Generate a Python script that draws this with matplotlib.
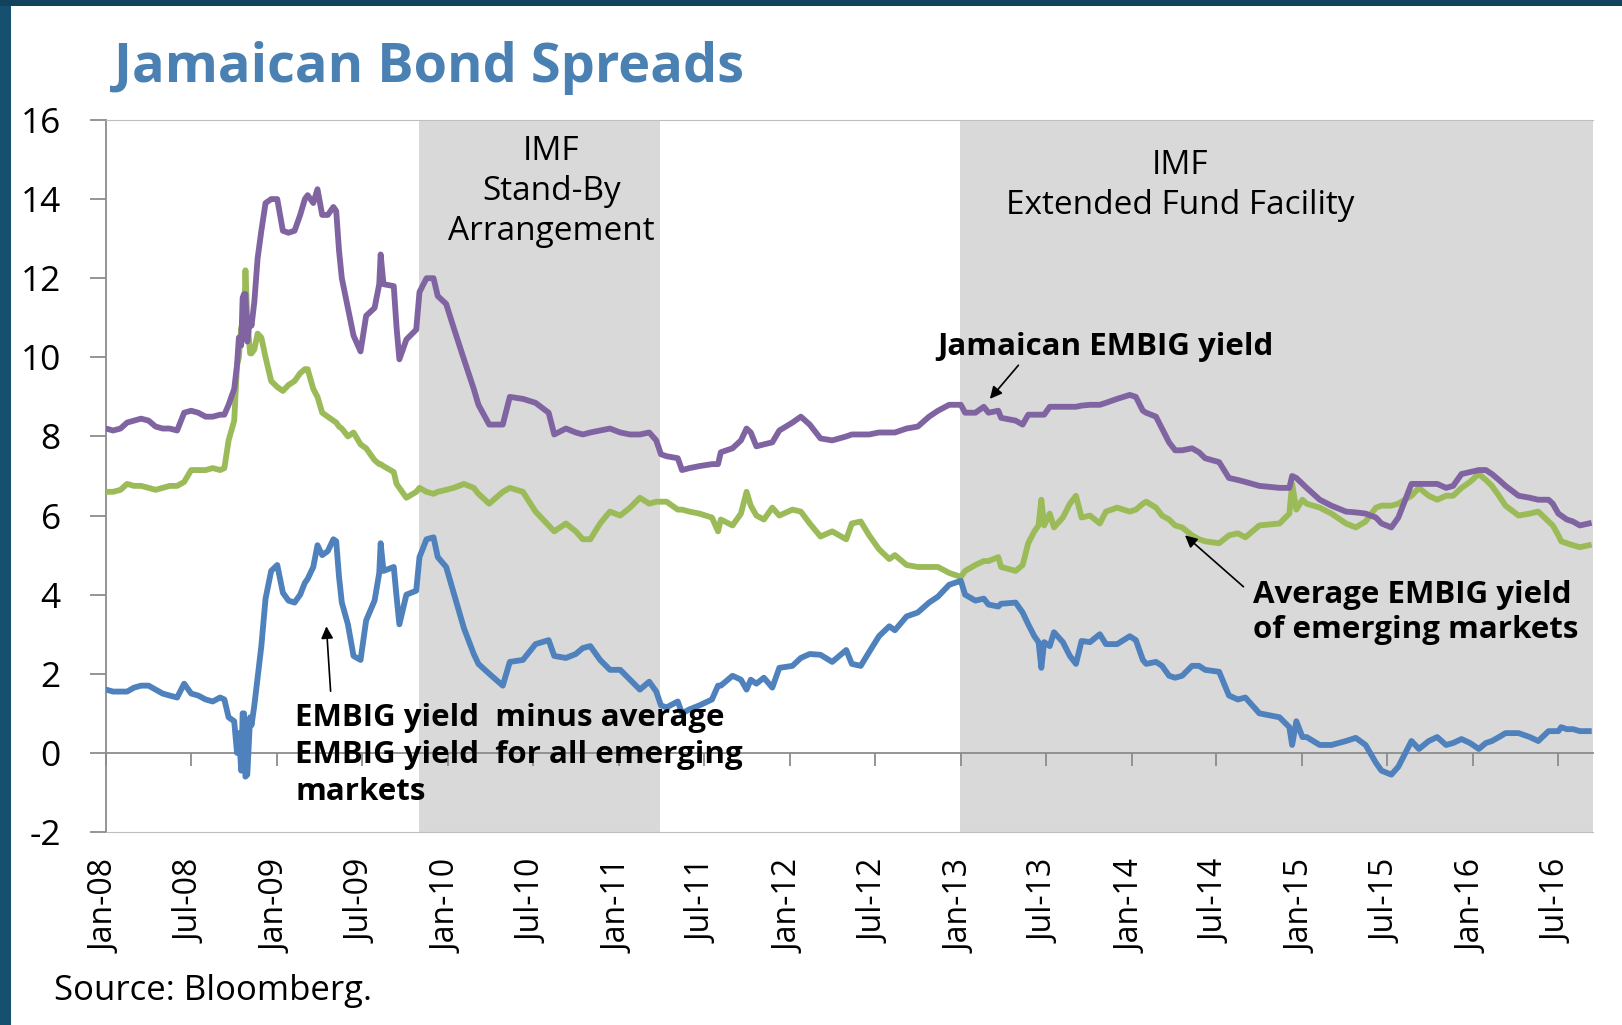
import matplotlib
matplotlib.use("Agg")
import matplotlib.pyplot as plt
import matplotlib.dates as mdates
from matplotlib.patches import Rectangle
import pandas as pd
import numpy as np

plt.rcParams['font.family'] = ['Open Sans', 'DejaVu Sans']
plt.rcParams['axes.unicode_minus'] = False

# ---------------- data ----------------
dates = [
    "2008-01-01", "2008-01-16", "2008-02-01", "2008-02-15", "2008-03-01", "2008-03-16",
    "2008-04-01", "2008-04-16", "2008-05-01", "2008-05-16", "2008-06-01", "2008-06-16",
    "2008-07-01", "2008-07-16", "2008-08-01", "2008-08-16", "2008-09-01", "2008-09-10",
    "2008-09-19", "2008-10-01", "2008-10-07", "2008-10-11", "2008-10-16", "2008-10-19",
    "2008-10-22", "2008-10-25", "2008-10-29", "2008-11-04", "2008-11-07", "2008-11-13",
    "2008-11-20", "2008-11-28", "2008-12-07", "2008-12-19", "2009-01-01", "2009-01-13",
    "2009-01-25", "2009-02-07", "2009-02-19", "2009-03-01", "2009-03-07", "2009-03-19",
    "2009-03-28", "2009-04-07", "2009-04-19", "2009-05-01", "2009-05-07", "2009-05-13",
    "2009-05-19", "2009-06-01", "2009-06-13", "2009-06-28", "2009-07-10", "2009-07-28",
    "2009-08-07", "2009-08-10", "2009-08-16", "2009-09-07", "2009-09-13", "2009-09-19",
    "2009-10-04", "2009-10-25", "2009-11-01", "2009-11-16", "2009-12-01", "2009-12-10",
    "2009-12-28", "2010-01-13", "2010-02-04", "2010-02-25", "2010-03-07", "2010-03-30",
    "2010-04-28", "2010-05-13", "2010-06-10", "2010-07-07", "2010-08-04", "2010-08-16",
    "2010-09-10", "2010-10-01", "2010-10-16", "2010-11-01", "2010-11-22", "2010-12-13",
    "2011-01-04", "2011-01-25", "2011-02-15", "2011-03-07", "2011-03-22", "2011-04-01",
    "2011-04-13", "2011-05-07", "2011-05-16", "2011-06-01", "2011-06-22", "2011-07-19",
    "2011-08-01", "2011-08-07", "2011-09-01", "2011-09-19", "2011-10-01", "2011-10-10",
    "2011-10-22", "2011-11-07", "2011-11-25", "2011-12-10", "2012-01-07", "2012-01-25",
    "2012-02-13", "2012-03-07", "2012-04-01", "2012-05-01", "2012-05-13", "2012-06-01",
    "2012-06-19", "2012-07-10", "2012-08-01", "2012-08-13", "2012-09-07", "2012-10-01",
    "2012-10-25", "2012-11-13", "2012-12-07", "2013-01-01", "2013-01-10", "2013-02-01",
    "2013-02-19", "2013-03-01", "2013-03-22", "2013-03-28", "2013-04-28", "2013-05-13",
    "2013-05-25", "2013-06-07", "2013-06-16", "2013-06-22", "2013-06-28", "2013-07-10",
    "2013-07-19", "2013-08-07", "2013-08-22", "2013-09-04", "2013-09-16", "2013-10-04",
    "2013-10-25", "2013-11-07", "2013-12-01", "2013-12-28", "2014-01-10", "2014-01-25",
    "2014-02-01", "2014-02-22", "2014-03-07", "2014-03-22", "2014-04-04", "2014-04-19",
    "2014-05-10", "2014-05-25", "2014-06-07", "2014-07-07", "2014-07-28", "2014-08-16",
    "2014-09-01", "2014-10-01", "2014-11-13", "2014-12-04", "2014-12-10", "2014-12-19",
    "2015-01-01", "2015-01-10", "2015-02-07", "2015-03-04", "2015-04-04", "2015-04-25",
    "2015-05-16", "2015-06-07", "2015-06-19", "2015-07-10", "2015-07-25", "2015-08-22",
    "2015-09-07", "2015-09-28", "2015-10-16", "2015-11-04", "2015-11-19", "2015-12-07",
    "2015-12-25", "2016-01-13", "2016-01-28", "2016-02-10", "2016-02-25", "2016-03-10",
    "2016-04-07", "2016-05-01", "2016-05-19", "2016-06-10", "2016-06-19", "2016-07-01",
    "2016-07-07", "2016-07-19", "2016-08-01", "2016-08-16", "2016-09-04",
]

jamaica_yield = [
    8.2, 8.15, 8.2, 8.35, 8.4, 8.45,
    8.4, 8.25, 8.2, 8.2, 8.15, 8.6,
    8.65, 8.6, 8.5, 8.5, 8.55, 8.55,
    8.8, 9.2, 9.8, 10.5, 10.3, 11.5,
    11.6, 11.6, 10.4, 11.0, 10.8, 11.4,
    12.5, 13.2, 13.9, 14.0, 14.0, 13.2,
    13.15, 13.2, 13.6, 14.0, 14.1, 13.9,
    14.25, 13.6, 13.6, 13.8, 13.7, 12.7,
    12.0, 11.25, 10.55, 10.15, 11.05, 11.25,
    11.85, 12.6, 11.85, 11.8, 10.75, 9.95,
    10.45, 10.7, 11.65, 12.0, 12.0, 11.55,
    11.35, 10.75, 9.95, 9.2, 8.8, 8.3,
    8.3, 9.0, 8.95, 8.85, 8.6, 8.05,
    8.2, 8.1, 8.05, 8.1, 8.15, 8.2,
    8.1, 8.05, 8.05, 8.1, 7.9, 7.55,
    7.5, 7.45, 7.15, 7.2, 7.25, 7.3,
    7.3, 7.6, 7.7, 7.9, 8.2, 8.1,
    7.75, 7.8, 7.85, 8.15, 8.35, 8.5,
    8.3, 7.95, 7.9, 8.0, 8.05, 8.05,
    8.05, 8.1, 8.1, 8.1, 8.2, 8.25,
    8.5, 8.65, 8.8, 8.8, 8.6, 8.6,
    8.75, 8.6, 8.65, 8.47, 8.4, 8.3,
    8.55, 8.55, 8.55, 8.55, 8.55, 8.75,
    8.75, 8.75, 8.75, 8.75, 8.78, 8.8,
    8.8, 8.85, 8.95, 9.05, 9.0, 8.65,
    8.6, 8.5, 8.2, 7.85, 7.65, 7.65,
    7.7, 7.6, 7.45, 7.35, 6.95, 6.9,
    6.85, 6.75, 6.7, 6.7, 7.0, 6.95,
    6.8, 6.7, 6.4, 6.25, 6.1, 6.08,
    6.05, 5.95, 5.8, 5.7, 5.95, 6.8,
    6.8, 6.8, 6.8, 6.7, 6.75, 7.05,
    7.1, 7.15, 7.15, 7.05, 6.9, 6.75,
    6.5, 6.45, 6.4, 6.4, 6.3, 6.05,
    6.0, 5.9, 5.85, 5.75, 5.8,
]

em_average_yield = [
    6.6, 6.6, 6.65, 6.8, 6.75, 6.75,
    6.7, 6.65, 6.7, 6.75, 6.75, 6.85,
    7.15, 7.15, 7.15, 7.2, 7.15, 7.2,
    7.9, 8.4, 9.8, 10.0, 10.75, 10.5,
    10.6, 12.2, 10.95, 10.1, 10.1, 10.2,
    10.6, 10.5, 10.0, 9.4, 9.25, 9.15,
    9.3, 9.4, 9.6, 9.7, 9.7, 9.2,
    9.0, 8.6, 8.5, 8.4, 8.35, 8.25,
    8.2, 8.0, 8.1, 7.8, 7.7, 7.4,
    7.3, 7.3, 7.25, 7.1, 6.8, 6.7,
    6.45, 6.6, 6.7, 6.6, 6.55, 6.6,
    6.65, 6.7, 6.8, 6.7, 6.55, 6.3,
    6.6, 6.7, 6.6, 6.1, 5.75, 5.6,
    5.8, 5.6, 5.4, 5.4, 5.8, 6.1,
    6.0, 6.2, 6.45, 6.3, 6.35, 6.35,
    6.35, 6.15, 6.15, 6.1, 6.05, 5.95,
    5.6, 5.9, 5.75, 6.05, 6.6, 6.25,
    6.0, 5.9, 6.2, 6.0, 6.15, 6.1,
    5.8, 5.47, 5.6, 5.4, 5.8, 5.85,
    5.5, 5.15, 4.9, 5.0, 4.75, 4.7,
    4.7, 4.7, 4.55, 4.45, 4.6, 4.75,
    4.85, 4.85, 4.95, 4.7, 4.6, 4.75,
    5.3, 5.6, 5.75, 6.4, 5.75, 6.05,
    5.7, 5.95, 6.3, 6.5, 5.95, 6.0,
    5.8, 6.1, 6.2, 6.1, 6.15, 6.3,
    6.35, 6.2, 6.0, 5.9, 5.75, 5.7,
    5.5, 5.4, 5.35, 5.3, 5.5, 5.55,
    5.45, 5.75, 5.8, 6.05, 6.8, 6.15,
    6.4, 6.3, 6.2, 6.05, 5.8, 5.7,
    5.85, 6.2, 6.25, 6.25, 6.3, 6.5,
    6.7, 6.5, 6.4, 6.5, 6.5, 6.7,
    6.85, 7.05, 6.9, 6.75, 6.5, 6.25,
    6.0, 6.05, 6.1, 5.85, 5.75, 5.5,
    5.35, 5.3, 5.25, 5.2, 5.25,
]

yticks = [-2, 0, 2, 4, 6, 8, 10, 12, 14, 16]
sba_period = ("2009-10-31", "2011-03-29")
eff_period = ("2012-12-31", "2016-09-13")
x_range = ("2008-01-01", "2016-09-13")

# ---------------- derived series ----------------
d = pd.to_datetime(dates)
jam = np.array(jamaica_yield)
avg = np.array(em_average_yield)
spread = jam - avg

PURPLE = "#8064A2"
GREEN = "#9BBB59"
BLUE = "#4F81BD"
SHADE = "#D9D9D9"
AXGRAY = "#8C8C8C"

W, H = 1622, 1025
fig = plt.figure(figsize=(W / 100, H / 100), dpi=100)
fig.patch.set_facecolor("white")

# dark frame at left and top
fig.patches.append(Rectangle((0, 0), 11 / W, 1, transform=fig.transFigure,
                             facecolor="#15506E", edgecolor="none", zorder=0))
fig.patches.append(Rectangle((0, 1 - 6 / H), 1, 6 / H, transform=fig.transFigure,
                             facecolor="#12425E", edgecolor="none", zorder=0))

ax = fig.add_axes([106 / W, 1 - 832 / H, (1593 - 106) / W, (832 - 120) / H])
ax.set_facecolor("white")

ax.axvspan(pd.Timestamp(sba_period[0]), pd.Timestamp(sba_period[1]), color=SHADE, lw=0, zorder=0)
ax.axvspan(pd.Timestamp(eff_period[0]), pd.Timestamp(eff_period[1]), color=SHADE, lw=0, zorder=0)

lw = 4.2
ax.plot(d, avg, color=GREEN, lw=lw, solid_joinstyle="round", zorder=3)
ax.plot(d, jam, color=PURPLE, lw=lw, solid_joinstyle="round", zorder=4)
ax.plot(d, spread, color=BLUE, lw=lw, solid_joinstyle="round", zorder=4)

ax.set_xlim(pd.Timestamp(x_range[0]), pd.Timestamp(x_range[1]))
ax.set_ylim(-2, 16)
ax.set_yticks(yticks)

# spines
ax.spines["right"].set_visible(False)
ax.spines["top"].set_color("#BFBFBF")
ax.spines["bottom"].set_color("#BFBFBF")
ax.spines["left"].set_color(AXGRAY)
ax.spines["left"].set_linewidth(1.3)

ax.tick_params(axis="y", direction="out", length=11.5, width=1.3, color=AXGRAY,
               pad=21, labelsize=25.5, labelcolor="black")

loc = mdates.MonthLocator(bymonth=[1, 7])
ax.xaxis.set_major_locator(loc)
ax.xaxis.set_major_formatter(mdates.DateFormatter("%b-%y"))
ax.tick_params(axis="x", length=0, pad=20, labelsize=23, labelrotation=90, labelcolor="black")

# zero line with ticks
sec = ax.secondary_xaxis(2 / 18)
sec.xaxis.set_major_locator(mdates.MonthLocator(bymonth=[1, 7]))
sec.set_xticklabels([])
sec.tick_params(axis="x", direction="out", length=9, width=1.3, color=AXGRAY)
sec.spines["bottom"].set_color(AXGRAY)
sec.spines["bottom"].set_linewidth(1.3)

# period labels
ax.text(pd.Timestamp("2010-08-10"), 14.2, "IMF\nStand-By\nArrangement", ha="center", va="center",
        fontsize=24, linespacing=1.28, zorder=5)
ax.text(pd.Timestamp("2014-04-15"), 14.35, "IMF\nExtended Fund Facility", ha="center", va="center",
        fontsize=24, linespacing=1.28, zorder=5)

# annotations
bold = dict(fontsize=22.5, fontweight="bold", color="black")
arrow = dict(arrowstyle="-|>", color="black", lw=1.2, mutation_scale=18, shrinkA=0, shrinkB=0)

ax.text(pd.Timestamp("2012-11-12"), 10.25, "Jamaican EMBIG yield", ha="left", va="center", zorder=6, **bold)
ax.annotate("", xy=(pd.Timestamp("2013-03-04"), 8.95), xytext=(pd.Timestamp("2013-05-04"), 9.8),
            arrowprops=arrow, zorder=6)

ax.text(pd.Timestamp("2014-09-18"), 3.55, "Average EMBIG yield\nof emerging markets", ha="left",
        va="center", linespacing=1.23, zorder=6, **bold)
ax.annotate("", xy=(pd.Timestamp("2014-04-25"), 5.5), xytext=(pd.Timestamp("2014-08-28"), 4.2),
            arrowprops=arrow, zorder=6)

ax.text(pd.Timestamp("2009-02-08"), -0.05, "EMBIG yield  minus average\nEMBIG yield  for all emerging\nmarkets",
        ha="left", va="center", linespacing=1.29, zorder=6, **bold)
ax.annotate("", xy=(pd.Timestamp("2009-04-16"), 3.2), xytext=(pd.Timestamp("2009-04-25"), 1.56),
            arrowprops=arrow, zorder=6)

# title and source
fig.text(114 / W, 1 - 82 / H, "Jamaican Bond Spreads", fontsize=39, fontweight="bold",
         color="#4A81B2", ha="left", va="baseline")
fig.text(54 / W, 1 - 991 / H, "Source: Bloomberg.", fontsize=25, ha="left", va="center")

fig.savefig("out.png", dpi=100)
